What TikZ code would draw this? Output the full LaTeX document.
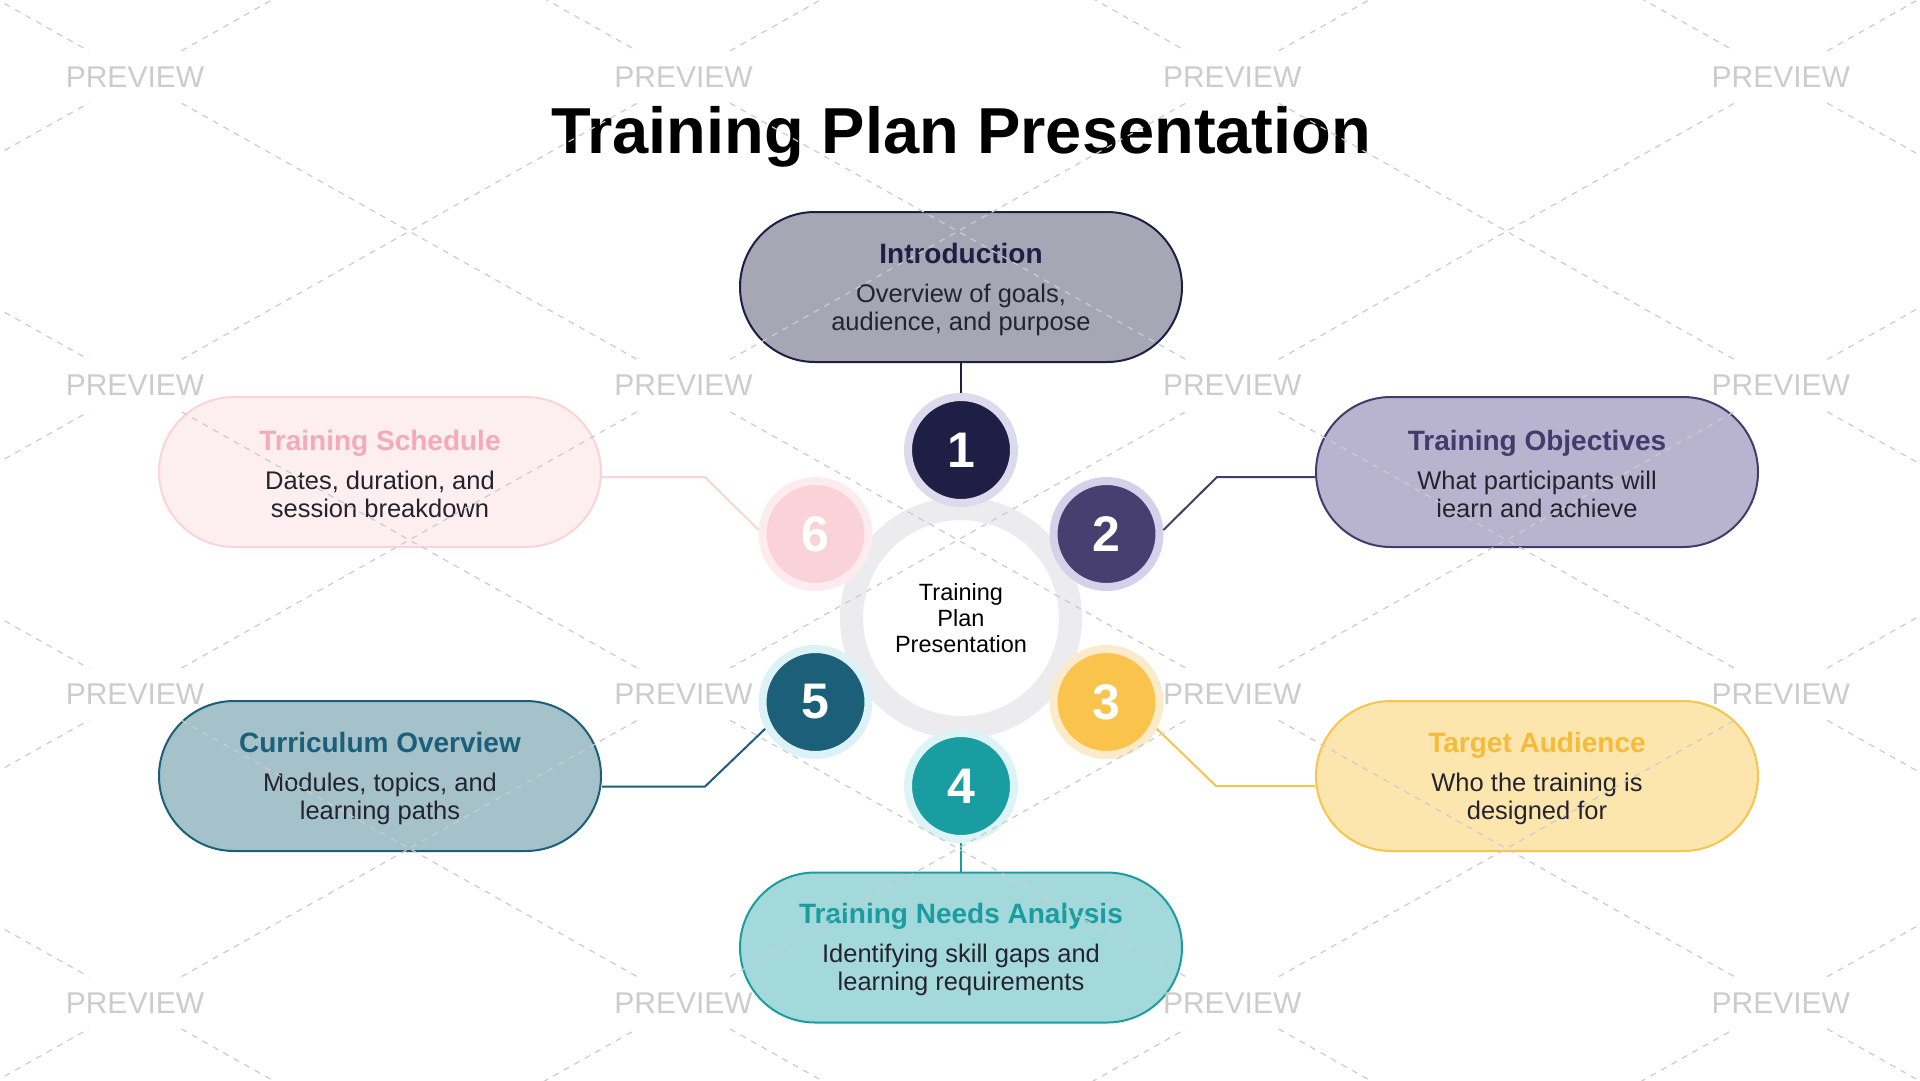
\documentclass[tikz,border=0pt]{standalone}
\usepackage{fontspec}
\setmainfont{Liberation Sans}

\definecolor{bodyink}{HTML}{24242F}
\definecolor{introfill}{HTML}{A7A6B4}
\definecolor{introline}{HTML}{1F1E45}
\definecolor{objfill}{HTML}{B8B4CF}
\definecolor{objline}{HTML}{433B6C}
\definecolor{audfill}{HTML}{FDE6AE}
\definecolor{audline}{HTML}{F7C54E}
\definecolor{audhead}{HTML}{F5BC3C}
\definecolor{needsfill}{HTML}{A4D9DB}
\definecolor{needsline}{HTML}{1A9DA0}
\definecolor{currfill}{HTML}{A5C1CA}
\definecolor{currline}{HTML}{1B5F78}
\definecolor{schedfill}{HTML}{FDEEEF}
\definecolor{schedline}{HTML}{F9D5D9}
\definecolor{schedhead}{HTML}{F5A9B9}
\definecolor{badgetwo}{HTML}{463F70}
\definecolor{badgethree}{HTML}{F9C34C}
\definecolor{badgesix}{HTML}{FAD3D9}
\definecolor{haloone}{HTML}{DCDAEC}
\definecolor{halotwo}{HTML}{D5D1EA}
\definecolor{halothree}{HTML}{FCEBCB}
\definecolor{halofour}{HTML}{DDF4F6}
\definecolor{halofive}{HTML}{DDF2F6}
\definecolor{halosix}{HTML}{FDECEF}
\definecolor{ringgray}{HTML}{ECECEF}
\definecolor{wmgray}{HTML}{CCCCCC}

\newcommand{\headfont}{\fontsize{28}{28}\selectfont\bfseries\rule{0pt}{24.5pt}}

\begin{document}
\begin{tikzpicture}[x=1pt, y=-1pt,
topic/.style={rectangle, rounded corners=75pt, minimum width=442pt, minimum height=150pt, line width=2pt, align=center, text=bodyink, font=\fontsize{25.5}{28}\selectfont},
badge/.style={circle, minimum size=106pt, line width=8pt, text=white, font=\fontsize{50}{50}\selectfont\bfseries},
hub/.style={circle, minimum size=219pt, line width=23pt, draw=ringgray, fill=white, align=center, font=\fontsize{23.5}{26}\selectfont},
link/.style={line width=2pt},
wmtext/.style={text=wmgray, minimum height=52pt, inner xsep=0pt, font=\fontsize{30}{30}\selectfont},
wmline/.style={draw=wmgray, line width=1.2pt, dash pattern=on 6pt off 6pt}]

\useasboundingbox[fill=white] (0,0) rectangle (1920,1080);

%Title
\node[font=\fontsize{65}{65}\selectfont\bfseries, anchor=base] (title) at (961,153) {Training Plan Presentation};

%Hub
\node[hub] (hub) at (961,618) {Training\\Plan\\Presentation};

%Steps
\node[badge, fill=introline, draw=haloone] (n1) at (961,450) {1};
\node[badge, fill=badgetwo, draw=halotwo] (n2) at (1106.5,534) {2};
\node[badge, fill=badgethree, draw=halothree] (n3) at (1106.5,702) {3};
\node[badge, fill=needsline, draw=halofour] (n4) at (961,786) {4};
\node[badge, fill=currline, draw=halofive] (n5) at (815.5,702) {5};
\node[badge, fill=badgesix, draw=halosix] (n6) at (815.5,534) {6};

%Topics
\node[topic, fill=introfill, draw=introline] (intro) at (961,287)
 {{\headfont\color{introline}Introduction}\\[11pt]Overview of goals,\\audience, and purpose};
\node[topic, fill=objfill, draw=objline] (objectives) at (1537,472)
 {{\headfont\color{objline}Training Objectives}\\[11pt]What participants will\\learn and achieve};
\node[topic, fill=audfill, draw=audline] (audience) at (1537,776)
 {{\headfont\color{audhead}Target Audience}\\[11pt]Who the training is\\designed for};
\node[topic, fill=needsfill, draw=needsline] (needs) at (961,947.5)
 {{\headfont\color{needsline}Training Needs Analysis}\\[11pt]Identifying skill gaps and\\learning requirements};
\node[topic, fill=currfill, draw=currline] (curriculum) at (380,776)
 {{\headfont\color{currline}Curriculum Overview}\\[11pt]Modules, topics, and\\learning paths};
\node[topic, fill=schedfill, draw=schedline] (schedule) at (380,472)
 {{\headfont\color{schedhead}Training Schedule}\\[11pt]Dates, duration, and\\session breakdown};

%Links
\coordinate (k2) at (1217,477);
\coordinate (k3) at (1216,786);
\coordinate (k5) at (705,786.5);
\coordinate (k6) at (705,477);
\draw[link, introline] (intro) -- (n1);
\draw[link, objline] (n2.4) -- (k2) -- (objectives.west |- k2);
\draw[link, audline] (n3.-28) -- (k3) -- (audience.west |- k3);
\draw[link, needsline] (n4) -- (needs);
\draw[link, currline] (n5.208) -- (k5) -- (curriculum.east |- k5);
\draw[link, schedline] (n6.176) -- (k6) -- (schedule.east |- k6);

%Watermark
\begin{scope}
\clip (0,0) rectangle (1920,1080);
\foreach \i in {0,...,5}
  \foreach \j in {0,...,5}
    \coordinate (pv\i\j) at ({-413.6+548.6*\i},{-231.6+308.6*\j});
\foreach \i in {1,...,4}
  \foreach \j in {1,...,4}
    \node[wmtext] (pv\i\j) at (pv\i\j) {PREVIEW};
\foreach \i [count=\ii] in {0,...,4}
  \foreach \j [count=\jj] in {0,...,4} {
    \draw[wmline] (pv\i\j) -- (pv\ii\jj);
    \draw[wmline] (pv\i\jj) -- (pv\ii\j);
  }
\end{scope}
\end{tikzpicture}
\end{document}
